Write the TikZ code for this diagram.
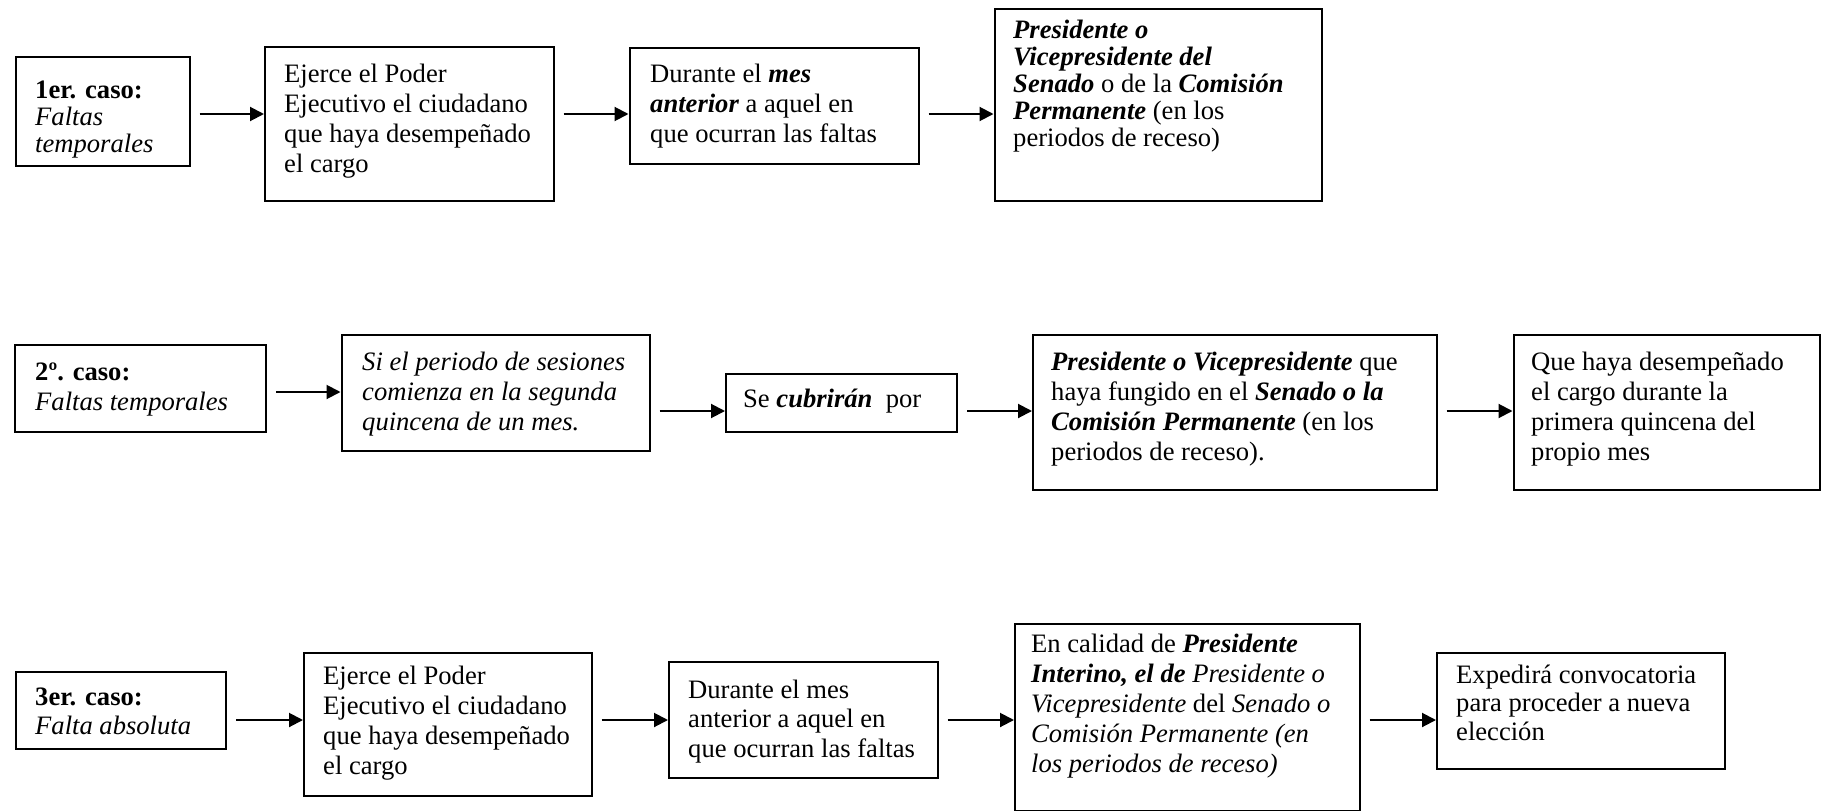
\documentclass[tikz,border=0pt]{standalone}
\usepackage{fontspec}
\setmainfont{Liberation Serif}
\usetikzlibrary{arrows.meta,calc}
\tikzset{
  bx/.style={draw, line width=2pt, inner sep=0pt, anchor=north west},
  txt/.style={anchor=north west, inner sep=0pt, align=left},
  arr/.style={line width=2pt, -{Triangle[length=14pt,width=14pt]}},
}
\newcommand{\BX}[5]{\node[bx, minimum width={#4-#2}, minimum height={#5-#3}] (#1) at (#2,#3) {};}
\newcommand{\TX}[5]{\node[txt, font=\fontsize{26.6}{#4}\selectfont] (#1) at (#2,{#3-22}) {\rule{0pt}{22pt}#5};}
\newcommand{\bi}[1]{\textbf{\textit{#1}}}
\begin{document}
\begin{tikzpicture}[x=1pt,y=-1pt]
\fill[white] (0,0) rectangle (1821,811);
\useasboundingbox (0,0) rectangle (1821,811);
% Row 1
\BX{b1}{14.5}{55.5}{188.5}{165}
\BX{b2}{264}{46}{552.5}{200}
\BX{b3}{628.5}{46.5}{917.5}{162.5}
\BX{b4}{993.5}{8}{1321}{199.5}
\TX{t1}{35}{98}{27}{\textbf{1er. caso:}\\ \textit{Faltas}\\ \textit{temporales}}
\TX{t2}{284}{82}{30}{Ejerce el Poder\\ Ejecutivo el ciudadano\\ que haya desempeñado\\ el cargo}
\TX{t3}{650}{82}{30.3}{Durante el \bi{mes}\\ \bi{anterior} a aquel en\\ que ocurran las faltas}
\TX{t4}{1013}{38}{27}{\bi{Presidente o}\\ \bi{Vicepresidente del}\\ \bi{Senado} o de la \bi{Comisión}\\ \bi{Permanente} (en los\\ periodos de receso)}
\coordinate (r1) at (0,114);
\draw[arr] ($(b1.east |- r1)+(9,0)$) -- (b2.west |- r1);
\draw[arr] ($(b2.east |- r1)+(9,0)$) -- (b3.west |- r1);
\draw[arr] ($(b3.east |- r1)+(9,0)$) -- (b4.west |- r1);
% Row 2
\BX{ba}{14}{344}{265}{431}
\BX{bb}{340.5}{334}{648.5}{450}
\BX{bc}{725}{373}{956}{431}
\BX{bd}{1032}{334}{1435.5}{488.5}
\BX{be}{1512.5}{334}{1819}{488.5}
\TX{ta}{35}{380}{30}{\textbf{2º. caso:}\\ \textit{Faltas temporales}}
\TX{tb}{362}{370}{30}{\textit{Si el periodo de sesiones}\\ \textit{comienza en la segunda}\\ \textit{quincena de un mes.}}
\TX{tc}{743}{407.7}{30}{Se \bi{cubrirán}\ \ por}
\TX{td}{1051}{370}{30}{\bi{Presidente o Vicepresidente} que\\ haya fungido en el \bi{Senado o la}\\ \bi{Comisión Permanente} (en los\\ periodos de receso).}
\TX{te}{1531}{370}{30}{Que haya desempeñado\\ el cargo durante la\\ primera quincena del\\ propio mes}
\coordinate (r2) at (0,392);
\coordinate (r3) at (0,411);
\draw[arr] ($(ba.east |- r2)+(9,0)$) -- (bb.west |- r2);
\draw[arr] ($(bb.east |- r3)+(9,0)$) -- (bc.west |- r3);
\draw[arr] ($(bc.east |- r3)+(9,0)$) -- (bd.west |- r3);
\draw[arr] ($(bd.east |- r3)+(9,0)$) -- (be.west |- r3);
% Row 3
\BX{bp}{14.5}{671}{225}{748}
\BX{bq}{303}{652}{590.5}{795}
\BX{br}{668}{661}{936.5}{777}
\BX{bs}{1014}{623}{1358.5}{809.5}
\BX{bt}{1436}{651.5}{1723.5}{767.5}
\TX{tp}{35}{705}{29}{\textbf{3er. caso:}\\ \textit{Falta absoluta}}
\TX{tq}{323}{684}{30}{Ejerce el Poder\\ Ejecutivo el ciudadano\\ que haya desempeñado\\ el cargo}
\TX{tr}{688}{698}{29.5}{Durante el mes\\ anterior a aquel en\\ que ocurran las faltas}
\TX{ts}{1031}{652}{30}{En calidad de \bi{Presidente}\\ \bi{Interino, el de} \textit{Presidente o}\\ \textit{Vicepresidente} del \textit{Senado o}\\ \textit{Comisión Permanente (en}\\ \textit{los periodos de receso)}}
\TX{tt}{1456}{683}{28.5}{Expedirá convocatoria\\ para proceder a nueva\\ elección}
\coordinate (r4) at (0,720);
\draw[arr] ($(bp.east |- r4)+(9,0)$) -- (bq.west |- r4);
\draw[arr] ($(bq.east |- r4)+(9,0)$) -- (br.west |- r4);
\draw[arr] ($(br.east |- r4)+(9,0)$) -- (bs.west |- r4);
\draw[arr] ($(bs.east |- r4)+(9,0)$) -- (bt.west |- r4);
\end{tikzpicture}
\end{document}
